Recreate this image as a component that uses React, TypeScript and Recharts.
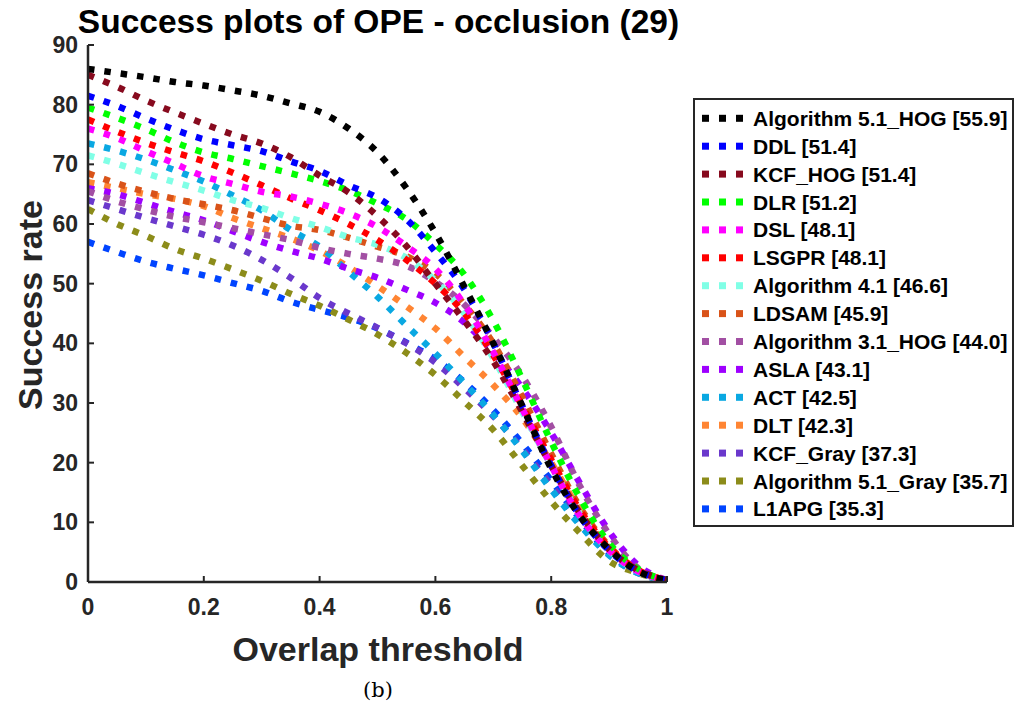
import React from "react";
import { LineChart, Line, XAxis, YAxis, Legend } from "recharts";

const thresholds = [0, 0.05, 0.1, 0.15, 0.2, 0.25, 0.3, 0.35, 0.4, 0.45, 0.5, 0.55, 0.6, 0.65, 0.7, 0.75, 0.8, 0.85, 0.9, 0.95, 1];

const seriesNames = [
  "Algorithm 5.1_HOG [55.9]",
  "DDL [51.4]",
  "KCF_HOG [51.4]",
  "DLR [51.2]",
  "DSL [48.1]",
  "LSGPR [48.1]",
  "Algorithm 4.1 [46.6]",
  "LDSAM [45.9]",
  "Algorithm 3.1_HOG [44.0]",
  "ASLA [43.1]",
  "ACT [42.5]",
  "DLT [42.3]",
  "KCF_Gray [37.3]",
  "Algorithm 5.1_Gray [35.7]",
  "L1APG [35.3]",
];

const seriesColors = [
  "#000000", "#0000FF", "#870A1E", "#00FF00", "#FF00FF", "#FF0000", "#80FFE6", "#D95319",
  "#A24FA3", "#9E00FF", "#0AA8E2", "#FF8533", "#6A38CC", "#8C8C1A", "#0044FF",
];

const alg51Hog = [86, 85.3, 84.6, 83.8, 83.2, 82.4, 81.5, 80.2, 78.8, 76, 72, 66, 58.5, 49.5, 40, 29.5, 19, 11, 5.5, 1.8, 0.3];
const ddl = [81.5, 79.8, 77.7, 75.8, 74.2, 73.2, 72.2, 70.5, 68.9, 66.5, 64.4, 60.8, 55.3, 49, 40, 29.5, 19.5, 11, 5.3, 1.8, 0.3];
const kcfHog = [85, 83, 80.7, 78.7, 76.8, 75, 73.5, 71.2, 68.1, 65.3, 61.3, 56.3, 50, 43.8, 37, 28.5, 19.5, 11.5, 5.5, 2, 0.3];
const dlr = [79.5, 77.8, 75.9, 73.7, 72, 70.9, 69.7, 68.5, 67.2, 65.6, 63.4, 60.8, 56.6, 51.5, 43.8, 34, 23.5, 14, 6.5, 2.2, 0.3];
const dsl = [76, 74.4, 72.2, 70.1, 68, 66.7, 65.4, 64.6, 63.4, 61.8, 59.5, 56.3, 52.5, 46.5, 38.5, 29, 19.5, 11, 5.3, 1.8, 0.3];
const lsgpr = [77.5, 75.5, 73.6, 72, 70.5, 68.6, 66.5, 64.3, 62.3, 60, 57.3, 54, 50, 45, 38, 29.5, 20.5, 12, 5.8, 2, 0.3];
const alg41 = [71.5, 70.1, 68.5, 67, 65.6, 64, 62.7, 61, 59.5, 57.8, 56.5, 54.3, 50.5, 45, 37.5, 28.5, 19.5, 11.3, 5.3, 1.8, 0.3];
const ldsam = [68.5, 66.8, 65.4, 64.2, 63.3, 62.3, 61, 59.7, 59, 57.7, 56.2, 54.6, 51.7, 46.5, 40, 31, 21.5, 12.5, 6, 2, 0.3];
const alg31Hog = [65.5, 63.8, 62.4, 61.2, 60.3, 59.3, 58.3, 57.3, 56, 55, 54.2, 53, 50.3, 46.5, 41, 34.5, 26, 16, 8, 2.3, 0.3];
const asla = [66, 65, 63.5, 62, 60.6, 58.8, 57, 55.5, 54.2, 52.5, 51, 49, 46.8, 43.5, 38.5, 32.5, 25, 16.5, 8.5, 2.8, 0.3];
const act = [73.5, 72.3, 70.8, 69, 67.1, 64.8, 62.3, 59, 56.2, 52, 47.8, 43, 38.3, 33.3, 28, 22, 15.5, 9.5, 4.5, 1.5, 0.3];
const dlt = [67, 66, 65, 64.2, 63, 61, 59.3, 57.6, 55.5, 52.8, 49.6, 46.2, 42.5, 37.7, 33, 27.5, 20, 12, 5.7, 2, 0.3];
const kcfGray = [64, 62.5, 61, 59.6, 58.2, 56.4, 54, 51, 47.6, 45, 42.6, 40, 36.8, 32.5, 27.8, 22.3, 16.2, 10, 4.6, 1.5, 0.3];
const alg51Gray = [62.5, 60, 58, 55.8, 54.2, 52.4, 50.5, 48.3, 46.3, 44, 41.5, 38.4, 34.7, 30.2, 25.5, 19.5, 13.5, 8.2, 3.5, 1.5, 0.2];
const l1apg = [57, 55.3, 53.7, 52.5, 51.4, 50.1, 48.8, 47, 45.6, 44.3, 42.5, 40.1, 37.3, 33.5, 28.8, 23.2, 17, 10.5, 4.8, 1.7, 0.3];

const seriesValues = [alg51Hog, ddl, kcfHog, dlr, dsl, lsgpr, alg41, ldsam, alg31Hog, asla, act, dlt, kcfGray, alg51Gray, l1apg];

const xTicks = [0, 0.2, 0.4, 0.6, 0.8, 1];
const xTickLabels = ["0", "0.2", "0.4", "0.6", "0.8", "1"];
const yTicks = [0, 10, 20, 30, 40, 50, 60, 70, 80, 90];

const rows = thresholds.map((t, i) => {
  const r: Record<string, number> = { t };
  seriesValues.forEach((vals, k) => {
    r["s" + k] = vals[i];
  });
  return r;
});

const FONT = "'Liberation Sans', Arial, Helvetica, sans-serif";
const AXIS = "#262626";

const BottomTick = (props: any) => {
  const { x, y, payload } = props;
  const idx = xTicks.indexOf(payload.value);
  return (
    <g>
      <line x1={x} y1={y} x2={x} y2={y - 6} stroke={AXIS} strokeWidth={2} />
      <text x={x} y={y + 33} textAnchor="middle" fontFamily={FONT} fontWeight="bold" fontSize={23} fill={AXIS}>
        {idx >= 0 ? xTickLabels[idx] : payload.value}
      </text>
    </g>
  );
};

const TopTick = (props: any) => {
  const { x, y } = props;
  return <line x1={x} y1={y} x2={x} y2={y + 6} stroke={AXIS} strokeWidth={2} />;
};

const LeftTick = (props: any) => {
  const { x, y, payload } = props;
  return (
    <g>
      <line x1={x} y1={y} x2={x + 6} y2={y} stroke={AXIS} strokeWidth={2} />
      <text x={x - 10} y={y + 8} textAnchor="end" fontFamily={FONT} fontWeight="bold" fontSize={23} fill={AXIS}>
        {payload.value}
      </text>
    </g>
  );
};

const RightTick = (props: any) => {
  const { x, y } = props;
  return <line x1={x} y1={y} x2={x - 6} y2={y} stroke={AXIS} strokeWidth={2} />;
};

const LegendBox = () => {
  const rowStep = 27.9;
  const firstY = 20.3;
  return (
    <div
      style={{
        width: 321,
        height: 429,
        boxSizing: "border-box",
        border: `2px solid ${AXIS}`,
        background: "#fff",
      }}
    >
      <svg width={317} height={425} style={{ display: "block" }}>
        {seriesNames.map((name, i) => {
          const cy = firstY + i * rowStep - 2;
          return (
            <g key={name}>
              {[0, 1, 2].map((j) => (
                <rect key={j} x={7 + j * 17} y={cy - 3.5} width={7} height={7} fill={seriesColors[i]} />
              ))}
              <text x={58} y={cy + 7.5} fontFamily={FONT} fontWeight="bold" fontSize={21} fill="#000">
                {name}
              </text>
            </g>
          );
        })}
      </svg>
    </div>
  );
};

export default function App() {
  const order = seriesNames.map((_, i) => i).reverse();
  return (
    <div style={{ position: "absolute", left: 0, top: 0, width: 1021, height: 711, background: "#fff" }}>
      <LineChart
        width={1021}
        height={711}
        data={rows}
        margin={{ top: 45, right: 354, bottom: 99, left: 28 }}
      >
        <XAxis
          dataKey="t"
          type="number"
          domain={[0, 1]}
          ticks={xTicks}
          interval={0}
          height={30}
          tickSize={0}
          tickMargin={0}
          tick={<BottomTick />}
          axisLine={{ stroke: AXIS, strokeWidth: 2.5 }}
          tickLine={false}
          allowDataOverflow
        />
        <XAxis
          xAxisId="top"
          orientation="top"
          dataKey="t"
          type="number"
          domain={[0, 1]}
          ticks={xTicks}
          interval={0}
          height={0}
          tickSize={0}
          tickMargin={0}
          tick={<TopTick />}
          axisLine={{ stroke: AXIS, strokeWidth: 2.5 }}
          tickLine={false}
          allowDataOverflow
        />
        <YAxis
          type="number"
          domain={[0, 90]}
          ticks={yTicks}
          interval={0}
          width={60}
          tickSize={0}
          tickMargin={0}
          tick={<LeftTick />}
          axisLine={{ stroke: AXIS, strokeWidth: 2.5 }}
          tickLine={false}
          allowDataOverflow
        />
        <YAxis
          yAxisId="right"
          orientation="right"
          type="number"
          domain={[0, 90]}
          ticks={yTicks}
          interval={0}
          width={0}
          tickSize={0}
          tickMargin={0}
          tick={<RightTick />}
          axisLine={{ stroke: AXIS, strokeWidth: 2.5 }}
          tickLine={false}
          allowDataOverflow
        />
        <Legend
          layout="vertical"
          align="center"
          verticalAlign="middle"
          content={<LegendBox />}
          wrapperStyle={{ position: "absolute", left: 693, top: 98, width: 321, height: 429 }}
        />
        {order.map((i) => (
          <Line
            key={"s" + i}
            dataKey={"s" + i}
            name={seriesNames[i]}
            type="monotone"
            stroke={seriesColors[i]}
            strokeWidth={6.5}
            strokeDasharray="6.5 10"
            strokeLinecap="butt"
            dot={false}
            activeDot={false}
            isAnimationActive={false}
          />
        ))}
      </LineChart>
      <div
        style={{
          position: "absolute",
          left: 0,
          width: 757,
          top: 2,
          textAlign: "center",
          fontFamily: FONT,
          fontWeight: "bold",
          fontSize: 33.5,
          color: "#000",
          lineHeight: "40px",
          whiteSpace: "nowrap",
        }}
      >
        Success plots of OPE - occlusion (29)
      </div>
      <div
        style={{
          position: "absolute",
          left: 0,
          width: 756,
          top: 629,
          textAlign: "center",
          fontFamily: FONT,
          fontWeight: "bold",
          fontSize: 34,
          color: AXIS,
          lineHeight: "40px",
        }}
      >
        Overlap threshold
      </div>
      <div
        style={{
          position: "absolute",
          left: 30,
          top: 305,
          transform: "translate(-50%, -50%) rotate(-90deg)",
          whiteSpace: "nowrap",
          fontFamily: FONT,
          fontWeight: "bold",
          fontSize: 34,
          color: AXIS,
          lineHeight: "40px",
        }}
      >
        Success rate
      </div>
      <div
        style={{
          position: "absolute",
          left: 0,
          width: 756,
          top: 677,
          textAlign: "center",
          fontFamily: "'DejaVu Serif', 'Liberation Serif', serif",
          fontSize: 21,
          color: "#000",
          lineHeight: "26px",
        }}
      >
        (b)
      </div>
    </div>
  );
}
